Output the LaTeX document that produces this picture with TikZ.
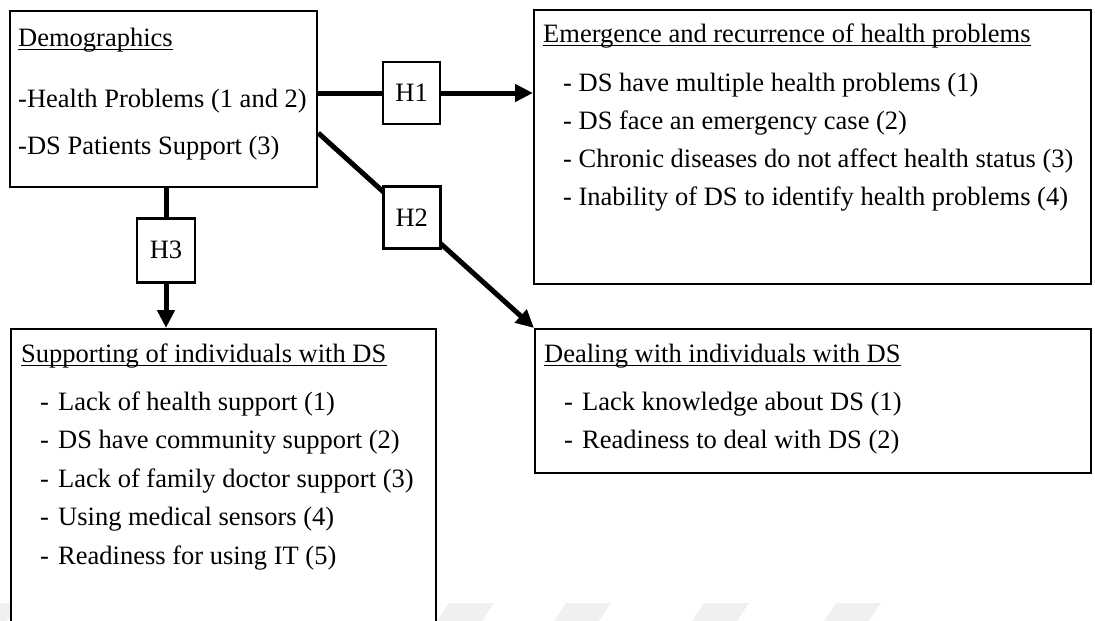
\documentclass[tikz,border=0pt]{standalone}
\usepackage{fontspec}
\setmainfont{Liberation Serif}
\usetikzlibrary{arrows.meta,calc}

\tikzset{
  every node/.style={font=\fontsize{26.5}{30}\selectfont},
  box/.style={draw, line width=2.2pt, fill=white, inner sep=0pt, anchor=north west},
  hbox/.style={draw, line width=2.5pt, fill=white, inner sep=0pt,
               minimum width=57pt, minimum height=62pt},
  txt/.style={anchor=base west, inner sep=0pt},
  uline/.style={line width=1.6pt},
  flow/.style={line width=5pt, -{Triangle[length=18pt,width=17pt]}},
  wmark/.style={fill=black!6, draw=none},
}

\begin{document}
\begin{tikzpicture}[x=1pt, y=-1pt]
  \useasboundingbox (0,0) rectangle (1095,621);
  \clip (0,0) rectangle (1095,621);

  % faint slanted bars along the lower edge
  \foreach \b in {-40,435,552,690,822}
    \fill[wmark] (\b,624) -- (\b+45,624) -- (\b+59,603) -- (\b+14,603) -- cycle;

  % the five boxes
  \node[box, minimum width=307pt, minimum height=176pt] (demo)  at (9,10)   {};
  \node[box, minimum width=557pt, minimum height=274pt] (emerg) at (533,9)  {};
  \node[box, minimum width=425pt, minimum height=330pt] (supp)  at (10,328) {};
  \node[box, minimum width=556pt, minimum height=144pt] (deal)  at (534,328) {};

  % Demographics
  \node[txt] (demoT)  at (18,46)  {Demographics};
  \node[txt] (demo1)  at (18,107) {-Health Problems (1 and 2)};
  \node[txt] (demo2)  at (18,154) {-DS Patients Support (3)};

  % Emergence and recurrence of health problems
  \node[txt] (emergT) at (543,42)  {Emergence and recurrence of health problems};
  \node[txt] (emerg1) at (563,91)  {- DS have multiple health problems (1)};
  \node[txt] (emerg2) at (563,129) {- DS face an emergency case (2)};
  \node[txt] (emerg3) at (563,167) {- Chronic diseases do not affect health status (3)};
  \node[txt] (emerg4) at (563,205) {- Inability of DS to identify health problems (4)};

  % Supporting of individuals with DS
  \node[txt] (suppT) at (21,362) {Supporting of individuals with DS};
  \node[txt] (supp1) at (40,410) {\makebox[18pt][l]{-}Lack of health support (1)};
  \node[txt] (supp2) at (40,448) {\makebox[18pt][l]{-}DS have community support (2)};
  \node[txt] (supp3) at (40,487) {\makebox[18pt][l]{-}Lack of family doctor support (3)};
  \node[txt] (supp4) at (40,525) {\makebox[18pt][l]{-}Using medical sensors (4)};
  \node[txt] (supp5) at (40,564) {\makebox[18pt][l]{-}Readiness for using IT (5)};

  % Dealing with individuals with DS
  \node[txt] (dealT) at (544,362) {Dealing with individuals with DS};
  \node[txt] (deal1) at (564,410) {\makebox[18pt][l]{-}Lack knowledge about DS (1)};
  \node[txt] (deal2) at (564,448) {\makebox[18pt][l]{-}Readiness to deal with DS (2)};

  % underlined headings
  \foreach \t in {demoT,emergT,suppT,dealT}
    \draw[uline] ([yshift=-3.5pt]\t.base west) -- ([yshift=-3.5pt]\t.base east);

  % hypothesis connectors, each labelled by its box
  \coordinate (a1) at ($(demo.north east)+(0,83)$);
  \draw[flow] (a1) -- node[hbox, pos=0.435] (h1) {H1} (a1 -| emerg.west);

  \coordinate (a2) at ($(demo.north east)!0.69!(demo.south east)$);
  \draw[flow] (a2) -- node[hbox, pos=0.4335] (h2) {H2} (deal.north west);

  \coordinate (a3) at ($(demo.south west)+(157,0)$);
  \draw[flow] (a3) -- node[hbox, pos=0.444, minimum width=58pt, minimum height=64pt] (h3) {H3} (a3 |- supp.north);
\end{tikzpicture}
\end{document}
